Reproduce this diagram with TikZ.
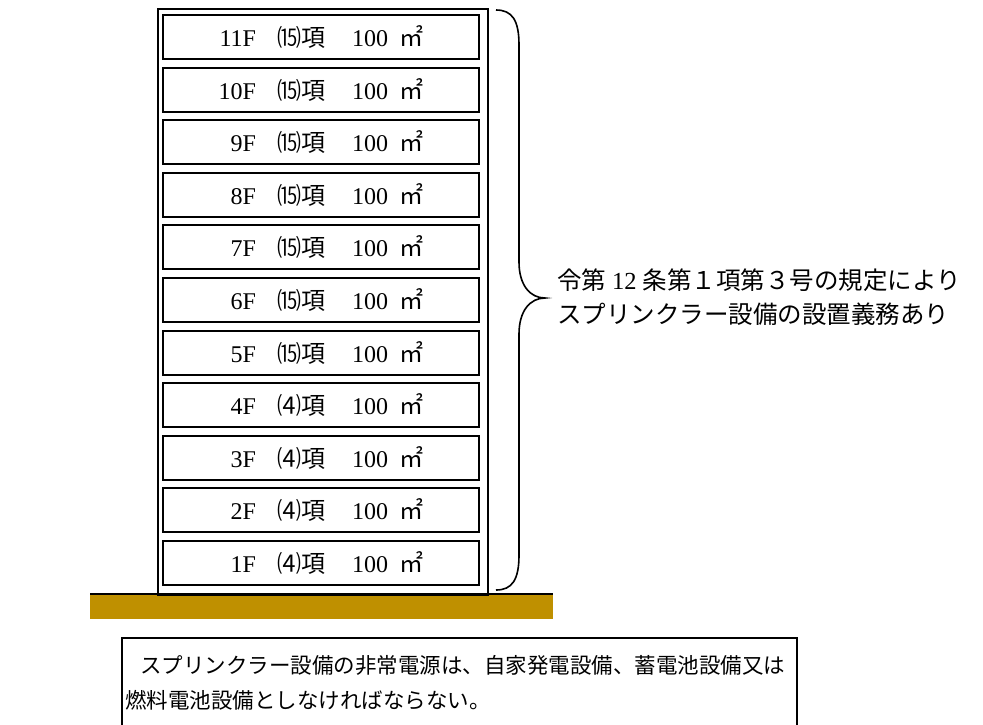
\documentclass[tikz,border=0pt]{standalone}
\usepackage{fontspec}
\setmainfont{Liberation Serif}
\newfontfamily\jp{Noto Sans CJK JP}
\definecolor{groundc}{HTML}{BF9000}
\tikzset{
  floorbox/.style={draw=black, line width=2pt, minimum width=316pt, minimum height=44pt, inner sep=0pt, text width=316pt, align=left, font=\fontsize{24}{26}\selectfont},
  building/.style={draw=black, line width=2pt},
  bracepath/.style={draw=black, line width=1.6pt},
  ground/.style={fill=groundc, draw=none},
}
\newcommand{\floorlbl}[2]{\hspace*{51pt}\makebox[42pt][r]{#1}\hspace{21pt}{\jp #2項}\hspace{27pt}100\hspace{11pt}{\jp ㎡}}
\begin{document}
\begin{tikzpicture}[x=1pt,y=-1pt]
\useasboundingbox (0,0) rectangle (983,724);
% ground
\node[ground, minimum width=463pt, minimum height=25pt, inner sep=0pt, anchor=north west] (gnd) at (90,594) {};
\draw[line width=1.2pt] (gnd.north west) -- (gnd.north east);
% building
\node[building, minimum width=330pt, minimum height=586pt, inner sep=0pt, anchor=north west] (bld) at (157,8) {};
% floors
\foreach \k/\lab/\use in {11/11F/⒂,10/10F/⒂,9/9F/⒂,8/8F/⒂,7/7F/⒂,6/6F/⒂,5/5F/⒂,4/4F/⑷,3/3F/⑷,2/2F/⑷,1/1F/⑷}{
  \node[floorbox] (f\k) at (321,{37+(11-\k)*52.6}) {\floorlbl{\lab}{\use}};
}
% brace
\coordinate (bt) at (496,10);
\coordinate (bb) at (496,590);
\coordinate (tip) at (545,298);
\draw[bracepath] (bt) .. controls (512,10) and (519,20) .. (519,45)
  -- (519,262) .. controls (519,285) and (530,298) .. (tip)
  .. controls (530,298) and (519,311) .. (519,334)
  -- (519,555) .. controls (519,580) and (512,590) .. (bb);
% right text
\node[anchor=west, inner sep=0pt, font=\fontsize{24.5}{26}\selectfont] (r1) at (557,280) {{\jp 令第}\hspace{6pt}12\hspace{6pt}{\jp 条第１項第３号の規定により}};
\node[anchor=west, inner sep=0pt, font=\fontsize{24.5}{26}\selectfont] (r2) at (557,314) {\jp スプリンクラー設備の設置義務あり};
% bottom box
\draw[line width=1.5pt] (122,740) -- (122,638) -- (797,638) -- (797,740);
\node[anchor=west, inner sep=0pt, font=\fontsize{21.5}{23}\selectfont] (b1) at (140,665) {\jp スプリンクラー設備の非常電源は、自家発電設備、蓄電池設備又は};
\node[anchor=west, inner sep=0pt, font=\fontsize{21.5}{23}\selectfont] (b2) at (125,700) {\jp 燃料電池設備としなければならない。};
\end{tikzpicture}
\end{document}
